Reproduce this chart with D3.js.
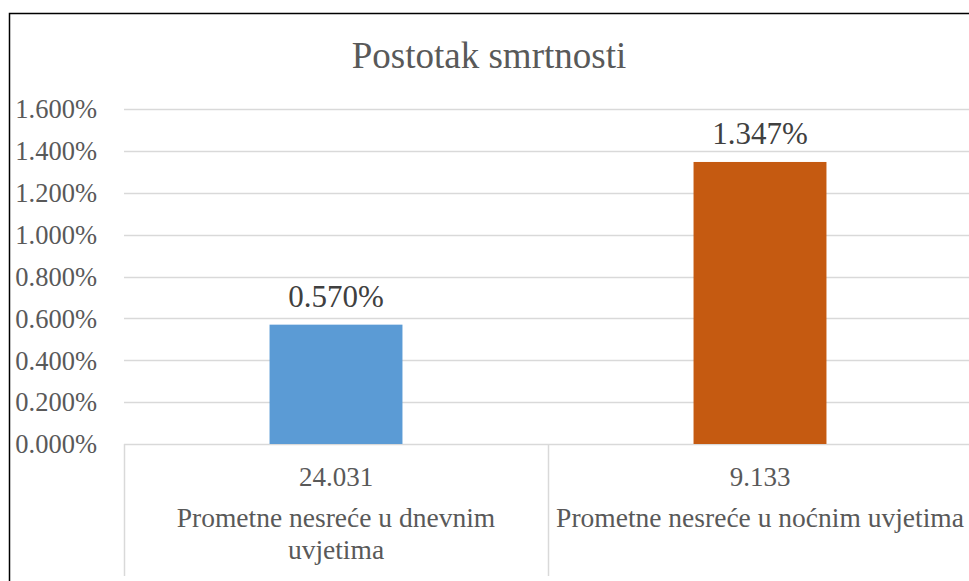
<!DOCTYPE html>
<html>
<head>
<meta charset="utf-8">
<script src="https://cdn.jsdelivr.net/npm/d3@7"></script>
<style>
  html, body { margin: 0; padding: 0; background: #fff; overflow: hidden; }
  svg { display: block; font-family: "Liberation Serif", "Times New Roman", serif; }
</style>
</head>
<body>
<div id="chart"></div>
<script>
// chart data
const title = "Postotak smrtnosti";
const categories = ["dan", "noc"];
const counts = ["24.031", "9.133"];
const categoryLines = [
  ["Prometne nesreće u dnevnim", "uvjetima"],
  ["Prometne nesreće u noćnim uvjetima"]
];
const fatalityRate = [0.0057, 0.01347];
const barColors = ["#5B9BD5", "#C55A11"];
const yTicks = [0, 0.002, 0.004, 0.006, 0.008, 0.010, 0.012, 0.014, 0.016];

const width = 969, height = 581;

const svg = d3.select("#chart")
  .append("svg")
  .attr("width", width)
  .attr("height", height);

// chart border (right/bottom edges fall outside the picture)
svg.append("rect")
  .attr("x", 9.5)
  .attr("y", 13.5)
  .attr("width", 1000)
  .attr("height", 1000)
  .attr("fill", "#fff")
  .attr("stroke", "#000")
  .attr("stroke-width", 1.5);

svg.append("text")
  .attr("x", 489)
  .attr("y", 68)
  .attr("text-anchor", "middle")
  .attr("font-size", 37)
  .attr("fill", "#595959")
  .text(title);

// scales
const xScale = d3.scaleBand()
  .domain(categories)
  .range([124, 972])
  .paddingInner(0)
  .paddingOuter(0);

const yScale = d3.scaleLinear()
  .domain([0, 0.016])
  .range([444, 109]);

const fmt = d3.format(".3%");

// gridlines
svg.append("g")
  .selectAll("line")
  .data(yTicks)
  .join("line")
  .attr("x1", 124)
  .attr("x2", 972)
  .attr("y1", d => Math.round(yScale(d)) + 0.5)
  .attr("y2", d => Math.round(yScale(d)) + 0.5)
  .attr("stroke", "#d9d9d9")
  .attr("stroke-width", 1.5);

// y axis labels
const yAxis = d3.axisLeft(yScale)
  .tickValues(yTicks)
  .tickFormat(fmt)
  .tickSize(0)
  .tickPadding(0);

const yg = svg.append("g")
  .attr("transform", "translate(97,0)")
  .call(yAxis);
yg.select(".domain").remove();
yg.selectAll("text")
  .attr("font-family", "Liberation Serif, serif")
  .attr("font-size", 26.5)
  .attr("fill", "#595959")
  .attr("dy", "0.33em");

// category dividers
const dividers = [124].concat(categories.map(c => xScale(c) + xScale.bandwidth()));
svg.append("g")
  .selectAll("line")
  .data(dividers)
  .join("line")
  .attr("x1", d => d + 0.5)
  .attr("x2", d => d + 0.5)
  .attr("y1", 444)
  .attr("y2", 576)
  .attr("stroke", "#d9d9d9")
  .attr("stroke-width", 1.5);

// bars
const barW = xScale.bandwidth() * 0.3135;
svg.append("g")
  .selectAll("rect")
  .data(fatalityRate)
  .join("rect")
  .attr("x", (d, i) => xScale(categories[i]) + (xScale.bandwidth() - barW) / 2)
  .attr("y", d => yScale(d))
  .attr("width", barW)
  .attr("height", d => yScale(0) - yScale(d))
  .attr("fill", (d, i) => barColors[i]);

// data labels
svg.append("g")
  .selectAll("text")
  .data(fatalityRate)
  .join("text")
  .attr("x", (d, i) => xScale(categories[i]) + xScale.bandwidth() / 2)
  .attr("y", d => yScale(d) - 18)
  .attr("text-anchor", "middle")
  .attr("font-size", 31)
  .attr("fill", "#404040")
  .text(d => fmt(d));

// category labels (two levels)
svg.append("g")
  .selectAll("text")
  .data(counts)
  .join("text")
  .attr("x", (d, i) => xScale(categories[i]) + xScale.bandwidth() / 2)
  .attr("y", 486)
  .attr("text-anchor", "middle")
  .attr("font-size", 27)
  .attr("fill", "#595959")
  .text(d => d);

categoryLines.forEach((lines, i) => {
  const t = svg.append("text")
    .attr("text-anchor", "middle")
    .attr("font-size", 27.5)
    .attr("fill", "#595959");
  lines.forEach((ln, j) => {
    t.append("tspan")
      .attr("x", xScale(categories[i]) + xScale.bandwidth() / 2)
      .attr("y", 527 + j * 31.5)
      .text(ln);
  });
});
</script>
</body>
</html>
